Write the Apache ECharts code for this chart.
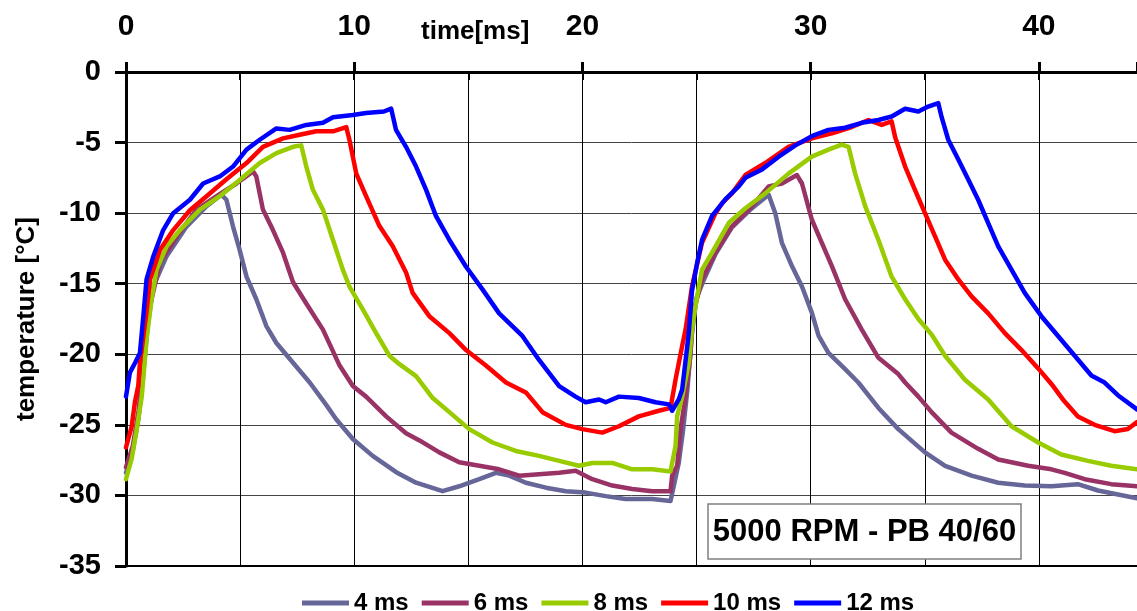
<!DOCTYPE html>
<html>
<head>
<meta charset="utf-8">
<script src="https://cdn.jsdelivr.net/npm/echarts@6/dist/echarts.min.js"></script>
<style>
  html, body { margin: 0; padding: 0; background: #fff; }
  #chart { width: 1137px; height: 611px; }
</style>
</head>
<body>
<div id="chart"></div>
<script>
// Measured temperature vs. time, one [time ms, temperature °C] list per pulse width
const seriesNames = ['4 ms', '6 ms', '8 ms', '10 ms', '12 ms'];
const seriesColors = ['#666699', '#993366', '#99cc00', '#ff0000', '#0000ff'];
const xTickLabels = [0, 10, 20, 30, 40];
const yTicks = [0, -5, -10, -15, -20, -25, -30, -35];

const temp4ms = [
  [0.0,-28.4],[0.3,-26.8],[0.55,-24.5],[0.75,-21.5],[0.95,-18.0],[1.19,-15.2],[1.78,-13.05],
  [2.65,-10.95],[3.53,-9.5],[4.18,-8.7],[4.4,-9.05],[4.69,-10.95],[4.98,-12.6],[5.28,-14.5],
  [5.71,-16.1],[6.15,-18.0],[6.59,-19.2],[7.32,-20.6],[8.05,-22.0],[8.78,-23.6],[9.21,-24.6],
  [9.94,-26.0],[10.81,-27.2],[11.84,-28.35],[12.71,-29.1],[13.87,-29.7],[14.6,-29.35],
  [15.48,-28.85],[16.21,-28.4],[16.79,-28.6],[17.52,-29.1],[18.4,-29.45],[19.27,-29.7],
  [20.14,-29.8],[21.02,-30.05],[21.89,-30.25],[23.06,-30.25],[23.86,-30.4],[24.0,-29.35],
  [24.22,-27.7],[24.4,-25.5],[24.6,-22.5],[24.8,-18.5],[25.0,-16.0],[25.3,-14.8],[25.83,-12.9],
  [26.55,-11.0],[27.43,-9.65],[28.16,-8.7],[28.45,-10.0],[28.74,-12.1],[29.18,-13.75],
  [29.62,-15.2],[30.05,-17.05],[30.35,-18.7],[30.78,-19.9],[31.51,-21.05],[32.09,-22.0],
  [32.97,-23.8],[33.84,-25.3],[35.01,-26.95],[35.89,-27.9],[37.05,-28.6],[38.22,-29.1],
  [39.38,-29.3],[40.55,-29.35],[41.71,-29.2],[42.59,-29.65],[44.3,-30.2]
];

const temp6ms = [
  [0.0,-28.0],[0.3,-26.5],[0.55,-24.0],[0.75,-21.0],[0.9,-18.5],[1.05,-16.6],[1.49,-13.5],
  [2.22,-11.65],[3.09,-9.75],[3.97,-8.8],[4.84,-7.9],[5.57,-7.05],[5.71,-7.4],[6.0,-9.75],
  [6.44,-11.2],[6.88,-12.8],[7.32,-14.9],[7.9,-16.4],[8.63,-18.25],[9.36,-20.8],[9.94,-22.25],
  [10.52,-23.0],[11.4,-24.4],[12.27,-25.6],[12.86,-26.1],[13.73,-26.95],[14.6,-27.65],
  [15.48,-27.9],[16.35,-28.15],[17.23,-28.6],[18.1,-28.5],[18.98,-28.4],[19.7,-28.25],
  [20.43,-28.85],[21.31,-29.3],[22.18,-29.55],[23.06,-29.7],[23.86,-29.7],[23.93,-28.6],
  [24.15,-27.9],[24.3,-25.3],[24.52,-23.0],[24.73,-20.1],[24.85,-17.1],[25.24,-14.7],
  [25.83,-12.8],[26.55,-10.95],[27.43,-9.5],[28.16,-8.1],[28.74,-7.9],[29.4,-7.3],[29.62,-7.9],
  [30.05,-10.45],[30.49,-12.1],[30.93,-13.75],[31.51,-16.1],[32.24,-18.25],[32.97,-20.25],
  [33.84,-21.4],[34.14,-22.0],[34.72,-23.0],[35.3,-24.1],[36.17,-25.55],[37.34,-26.7],
  [38.22,-27.45],[39.53,-27.9],[40.55,-28.15],[41.13,-28.4],[42.01,-28.85],[43.17,-29.2],
  [44.3,-29.35]
];

const temp8ms = [
  [0.0,-28.85],[0.25,-27.4],[0.47,-25.3],[0.69,-23.0],[0.9,-18.95],[1.12,-16.1],[1.34,-14.0],
  [1.78,-12.35],[2.36,-11.2],[3.24,-9.75],[4.11,-8.8],[4.98,-7.65],[5.86,-6.45],[6.59,-5.75],
  [7.32,-5.3],[7.68,-5.2],[7.9,-6.7],[8.19,-8.35],[8.63,-9.75],[9.07,-11.9],[9.5,-14.0],
  [9.79,-15.2],[10.37,-16.8],[10.96,-18.5],[11.54,-20.1],[11.98,-20.7],[12.71,-21.55],
  [13.44,-23.1],[14.17,-24.1],[15.04,-25.3],[16.06,-26.25],[17.08,-26.85],[18.1,-27.2],
  [18.98,-27.55],[19.85,-27.9],[20.43,-27.7],[21.31,-27.7],[22.18,-28.15],[23.06,-28.15],
  [23.86,-28.3],[24.08,-26.5],[24.15,-24.4],[24.37,-23.0],[24.66,-20.6],[24.8,-18.25],
  [24.95,-16.6],[25.24,-14.0],[25.68,-12.8],[26.41,-10.7],[27.14,-9.65],[28.01,-8.6],
  [29.03,-7.2],[30.05,-6.0],[30.78,-5.5],[31.36,-5.15],[31.66,-5.3],[31.95,-7.2],[32.39,-9.5],
  [32.97,-11.9],[33.55,-14.5],[34.14,-16.1],[34.72,-17.5],[35.3,-18.6],[35.89,-20.1],
  [36.76,-21.8],[37.78,-23.2],[38.8,-25.1],[39.97,-26.25],[40.98,-27.1],[42.15,-27.55],
  [43.17,-27.9],[44.3,-28.15]
];

const temp10ms = [
  [0.0,-26.6],[0.25,-25.1],[0.39,-23.4],[0.54,-22.2],[0.61,-20.6],[0.9,-17.0],[1.05,-14.7],
  [1.49,-12.6],[2.07,-11.2],[2.8,-9.8],[3.53,-8.8],[4.4,-7.6],[5.28,-6.45],[6.0,-5.3],
  [6.88,-4.7],[7.61,-4.45],[8.34,-4.2],[9.07,-4.2],[9.65,-3.9],[9.79,-4.8],[10.09,-7.2],
  [10.52,-8.8],[11.1,-10.9],[11.69,-12.35],[12.27,-14.2],[12.56,-15.65],[13.29,-17.3],
  [14.17,-18.5],[14.9,-19.7],[15.77,-20.8],[16.65,-22.0],[17.52,-22.7],[18.25,-24.1],
  [19.27,-25.0],[20.0,-25.3],[20.87,-25.55],[21.6,-25.1],[22.47,-24.4],[23.35,-24.0],
  [23.86,-23.8],[24.08,-21.8],[24.37,-19.4],[24.52,-18.25],[24.8,-15.2],[25.24,-12.1],
  [25.83,-10.0],[26.12,-9.3],[26.55,-8.6],[27.14,-7.3],[28.01,-6.45],[29.03,-5.3],[30.05,-4.7],
  [30.93,-4.35],[31.8,-3.9],[32.53,-3.4],[33.11,-3.75],[33.55,-3.5],[33.7,-4.6],[34.14,-6.7],
  [34.57,-8.35],[35.01,-10.0],[35.45,-11.65],[35.89,-13.3],[36.47,-14.7],[37.05,-15.9],
  [37.78,-17.1],[38.51,-18.5],[39.24,-19.7],[39.97,-21.0],[40.55,-22.1],[41.1,-23.3],
  [41.71,-24.4],[42.44,-25.0],[43.32,-25.45],[43.9,-25.3],[44.3,-24.8]
];

const temp12ms = [
  [0.0,-23.0],[0.17,-21.3],[0.4,-20.6],[0.61,-19.9],[0.76,-17.3],[0.9,-14.7],[1.19,-13.1],
  [1.63,-11.2],[2.07,-10.0],[2.8,-9.05],[3.38,-7.9],[4.11,-7.4],[4.69,-6.7],[5.28,-5.5],
  [5.86,-4.8],[6.59,-4.0],[7.17,-4.1],[7.9,-3.75],[8.63,-3.6],[9.07,-3.2],[9.94,-3.05],
  [10.52,-2.9],[11.3,-2.8],[11.62,-2.6],[11.83,-4.1],[12.27,-5.3],[12.71,-6.7],[13.15,-8.35],
  [13.58,-10.2],[14.17,-11.9],[14.9,-13.8],[15.62,-15.4],[16.35,-17.1],[17.37,-18.7],
  [18.1,-20.4],[18.98,-22.25],[19.7,-23.0],[20.14,-23.4],[20.73,-23.2],[21.02,-23.4],
  [21.6,-23.0],[22.47,-23.1],[23.2,-23.4],[23.79,-23.55],[23.93,-24.0],[24.22,-23.2],
  [24.37,-22.5],[24.66,-18.5],[24.8,-15.5],[25.03,-13.5],[25.24,-11.9],[25.68,-10.2],
  [26.27,-9.0],[26.85,-8.1],[27.14,-7.5],[27.87,-6.9],[28.6,-6.0],[29.33,-5.2],[30.05,-4.55],
  [30.78,-4.1],[31.51,-3.95],[32.24,-3.6],[32.97,-3.4],[33.55,-3.15],[34.14,-2.6],[34.72,-2.8],
  [35.15,-2.45],[35.59,-2.2],[35.74,-3.2],[36.03,-4.8],[36.47,-6.2],[36.9,-7.6],[37.34,-9.05],
  [37.78,-10.7],[38.22,-12.35],[38.8,-14.0],[39.38,-15.65],[40.11,-17.3],[40.84,-18.7],
  [41.57,-20.1],[42.3,-21.5],[42.88,-22.0],[43.46,-22.9],[44.05,-23.6],[44.3,-23.9]
];

const seriesData = [temp4ms, temp6ms, temp8ms, temp10ms, temp12ms];

const FONT = '"Liberation Sans", Arial, Helvetica, sans-serif';
const chart = echarts.init(document.getElementById('chart'), null, { renderer: 'canvas' });

const option = {
  animation: false,
  backgroundColor: '#ffffff',
  grid: { left: 126, right: -2, top: 72, bottom: 45, containLabel: false },
  xAxis: [
    {
      // main time axis drawn along the top edge
      type: 'value', position: 'top', min: 0, max: 44.3, interval: 5,
      axisLine: { show: true, onZero: false, lineStyle: { color: '#000', width: 3 } },
      axisTick: { show: true, inside: true, length: 8, lineStyle: { color: '#000', width: 2 } },
      axisLabel: {
        show: true, margin: 30, color: '#000', fontSize: 30, fontWeight: 'bold', fontFamily: FONT,
        showMaxLabel: false,
        formatter: v => (xTickLabels.indexOf(v) >= 0 ? String(v) : '')
      },
      splitLine: { show: true, lineStyle: { color: '#000', width: 1 } }
    },
    {
      // major ticks poking out above the top axis every 10 ms
      type: 'value', position: 'top', min: 0, max: 44.3, interval: 10,
      axisLine: { show: false },
      axisTick: { show: true, inside: false, length: 10, lineStyle: { color: '#000', width: 3 } },
      axisLabel: { show: false },
      splitLine: { show: false }
    },
    {
      // frame line along the bottom of the plot
      type: 'value', position: 'bottom', min: 0, max: 44.3,
      axisLine: { show: true, onZero: false, lineStyle: { color: '#000', width: 2 } },
      axisTick: { show: false }, axisLabel: { show: false }, splitLine: { show: false }
    }
  ],
  yAxis: {
    type: 'value', min: -35, max: 0, interval: 5,
    name: 'temperature [°C]', nameLocation: 'middle', nameGap: 86, nameRotate: 90,
    nameTextStyle: { color: '#000', fontSize: 26, fontWeight: 'bold', fontFamily: FONT },
    axisLine: { show: true, onZero: false, lineStyle: { color: '#000', width: 3 } },
    axisTick: { show: true, inside: false, length: 11, lineStyle: { color: '#000', width: 3 } },
    axisLabel: {
      margin: 25, color: '#000', fontSize: 29, fontWeight: 'bold', fontFamily: FONT,
      formatter: v => (yTicks.indexOf(v) >= 0 ? String(v) : '')
    },
    splitLine: { show: true, lineStyle: { color: '#444', width: 1 } }
  },
  legend: {
    data: seriesNames, left: 297, top: 586, icon: 'rect',
    itemWidth: 47, itemHeight: 5, itemGap: 13,
    textStyle: { color: '#000', fontSize: 24, fontWeight: 'bold', fontFamily: FONT }
  },
  series: seriesNames.map((name, i) => ({
    name: name,
    type: 'line',
    xAxisIndex: 0,
    yAxisIndex: 0,
    data: seriesData[i],
    symbol: 'none',
    showSymbol: false,
    clip: true,
    lineStyle: { color: seriesColors[i], width: 4.5, join: 'round', cap: 'round' },
    itemStyle: { color: seriesColors[i] },
    z: 2 + i
  })),
  graphic: [
    {
      type: 'text', x: 421, y: 32, z: 50,
      style: {
        text: 'time[ms]', fill: '#000', fontSize: 26, fontWeight: 'bold', fontFamily: FONT,
        align: 'left', verticalAlign: 'middle', textAlign: 'left', textVerticalAlign: 'middle'
      }
    },
    {
      type: 'rect', z: 100,
      shape: { x: 708, y: 504, width: 313, height: 55 },
      style: { fill: '#ffffff', stroke: '#7f7f7f', lineWidth: 1.5 }
    },
    {
      type: 'text', x: 864.5, y: 532, z: 101,
      style: {
        text: '5000 RPM - PB 40/60', fill: '#000', fontSize: 31, fontWeight: 'bold', fontFamily: FONT,
        align: 'center', verticalAlign: 'middle', textAlign: 'center', textVerticalAlign: 'middle'
      }
    }
  ]
};

chart.setOption(option);
</script>
</body>
</html>
